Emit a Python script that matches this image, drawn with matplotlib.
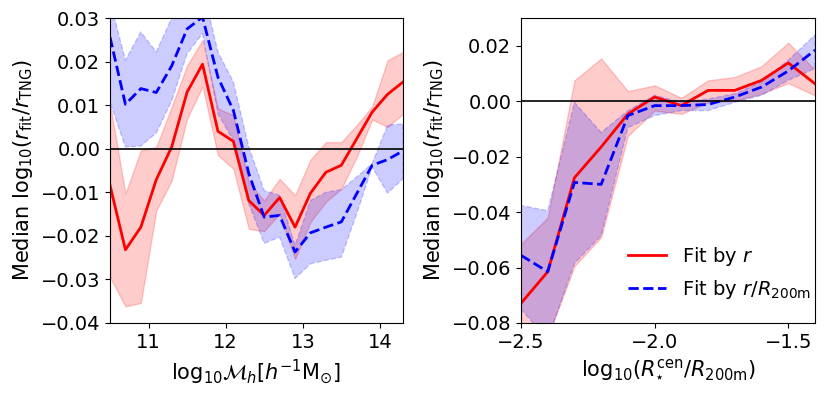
import matplotlib
matplotlib.use("Agg")
import matplotlib.pyplot as plt

# ---- Left panel data: halo mass bins ----
mass_bins = [10.5, 10.7, 10.9, 11.1, 11.3, 11.5, 11.7, 11.9, 12.1, 12.3,
             12.5, 12.7, 12.9, 13.1, 13.3, 13.5, 13.7, 13.9, 14.1, 14.3]
mass_r_med = [-0.0084, -0.0232, -0.0180, -0.0071, 0.0004, 0.0130, 0.0194, 0.0040, 0.0017, -0.0119,
              -0.0153, -0.0112, -0.0180, -0.0102, -0.0054, -0.0038, 0.0023, 0.0084, 0.0125, 0.0153]
mass_r_hi = [0.0103, -0.0103, -0.0004, 0.0004, 0.0096, 0.0191, 0.0249, 0.0092, 0.0077, -0.0077,
             -0.0119, -0.0069, -0.0107, -0.0025, 0.0015, 0.0015, 0.0054, 0.0097, 0.0203, 0.0222]
mass_r_lo = [-0.0295, -0.0362, -0.0354, -0.0142, -0.0073, 0.0069, 0.0143, -0.0015, -0.0046, -0.0184,
             -0.0189, -0.0149, -0.0253, -0.0168, -0.0122, -0.0092, -0.0019, 0.0067, 0.0050, 0.0080]
mass_b_med = [0.0256, 0.0102, 0.0138, 0.0129, 0.0190, 0.0275, 0.0302, 0.0164, 0.0088, -0.0057,
              -0.0157, -0.0153, -0.0237, -0.0193, -0.0180, -0.0168, -0.0103, -0.0038, -0.0025, -0.0005]
mass_b_hi = [0.0340, 0.0203, 0.0268, 0.0222, 0.0300, 0.0360, 0.0370, 0.0222, 0.0153, 0.0004,
             -0.0096, -0.0107, -0.0222, -0.0119, -0.0100, -0.0094, -0.0065, -0.0034, 0.0054, 0.0057]
mass_b_lo = [0.0107, 0.0004, 0.0006, 0.0036, 0.0110, 0.0218, 0.0264, 0.0080, 0.0019, -0.0126,
             -0.0217, -0.0203, -0.0298, -0.0264, -0.0256, -0.0249, -0.0149, -0.0042, -0.0102, -0.0069]

# ---- Right panel data: log10(R_cen / R_200m) bins ----
rad_bins = [-2.5, -2.4, -2.3, -2.2, -2.1, -2.0, -1.9, -1.8, -1.7, -1.6, -1.5, -1.4]
rad_r_med = [-0.0729, -0.0615, -0.0276, -0.0165, -0.0046, 0.0015, -0.0016, 0.0039, 0.0039, 0.0075, 0.0138, 0.0063]
rad_r_hi = [-0.0515, -0.0420, 0.0075, 0.0154, 0.0036, 0.0057, 0.0012, 0.0075, 0.0087, 0.0126, 0.0211, 0.0112]
rad_r_lo = [-0.0860, -0.0850, -0.0595, -0.0490, -0.0125, -0.0034, -0.0046, -0.0004, 0.0002, 0.0027, 0.0065, 0.0021]
rad_b_med = [-0.0556, -0.0615, -0.0293, -0.0300, -0.0052, -0.0016, -0.0016, -0.0012, 0.0015, 0.0051, 0.0109, 0.0184]
rad_b_hi = [-0.0376, -0.0395, -0.0004, -0.0113, -0.0034, 0.0021, -0.0004, 0.0008, 0.0027, 0.0069, 0.0148, 0.0239]
rad_b_lo = [-0.0750, -0.0860, -0.0585, -0.0485, -0.0095, -0.0052, -0.0034, -0.0034, -0.0004, 0.0021, 0.0075, 0.0118]

label_r = r"Fit by $r$"
label_b = r"Fit by $r/R_{\rm 200m}$"
ylabel = r"Median $\mathrm{log}_{10}(r_{\rm fit}/r_{\rm TNG})$"

fig = plt.figure(figsize=(8.31, 3.95), dpi=100)
axL = fig.add_axes([110/831, 1-323/395, (403-110)/831, (323-18)/395])
axR = fig.add_axes([521/831, 1-323/395, (815-521)/831, (323-18)/395])

TICK = 14
LAB = 15

def panel(ax, x, rm, rh, rl, bm, bh, bl):
    ax.fill_between(x, rl, rh, color='r', alpha=0.2)
    ax.fill_between(x, bl, bh, color='b', alpha=0.2, linestyle='--')
    ax.plot(x, rm, color='r', lw=2, label=label_r)
    ax.plot(x, bm, color='b', lw=2, ls='--', label=label_b)
    ax.axhline(0, color='k', lw=1.2)
    ax.tick_params(labelsize=TICK)
    ax.set_ylabel(ylabel, fontsize=LAB, labelpad=4)

panel(axL, mass_bins, mass_r_med, mass_r_hi, mass_r_lo, mass_b_med, mass_b_hi, mass_b_lo)
axL.set_xlim(10.5, 14.3)
axL.set_ylim(-0.04, 0.03)
axL.set_xticks([11, 12, 13, 14])
axL.set_yticks([-0.04, -0.03, -0.02, -0.01, 0.0, 0.01, 0.02, 0.03])
axL.set_xlabel(r"$\mathrm{log}_{10}\mathcal{M}_h[h^{-1}\mathrm{M}_{\odot}]$", fontsize=LAB)

panel(axR, rad_bins, rad_r_med, rad_r_hi, rad_r_lo, rad_b_med, rad_b_hi, rad_b_lo)
axR.set_xlim(-2.5, -1.4)
axR.set_ylim(-0.08, 0.03)
axR.set_xticks([-2.5, -2.0, -1.5])
axR.set_yticks([-0.08, -0.06, -0.04, -0.02, 0.0, 0.02])
axR.set_xlabel(r"$\mathrm{log}_{10}(R_{\star}^{\rm cen}/R_{\rm 200m})$", fontsize=LAB)
axR.legend(loc='lower right', frameon=False, fontsize=14,
           bbox_to_anchor=(1.0, 0.06), borderaxespad=0.0, borderpad=0.2,
           handlelength=2.0, labelspacing=0.5)

fig.savefig("out.png", dpi=100)
